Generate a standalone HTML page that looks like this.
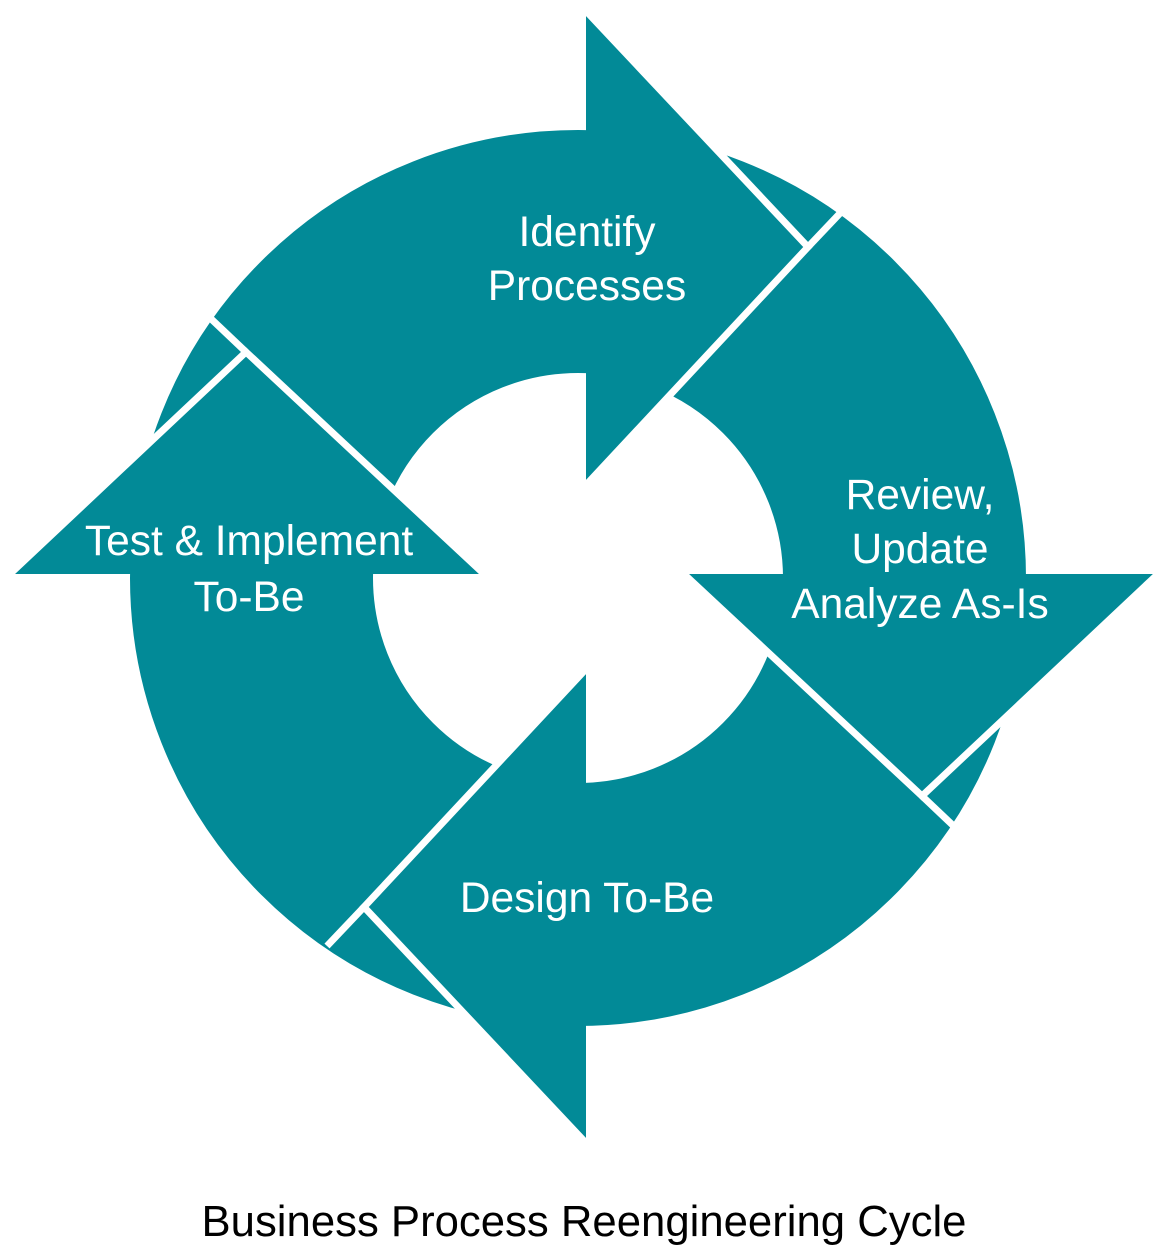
<!DOCTYPE html>
<html><head><meta charset="utf-8"><style>
html,body{margin:0;padding:0;background:#fff;}
svg{display:block}
text{font-family:"Liberation Sans",sans-serif;}
</style></head><body>
<svg width="1168" height="1245" viewBox="0 0 1168 1245" xmlns="http://www.w3.org/2000/svg">
<defs>
<g id="head">
  <path d="M0,-566 L222,-330 L0,-92 Z" fill="#028a97"/>
  <path d="M0,-566 L222,-330 L0,-92" fill="none" stroke="#fff" stroke-width="7"/>
  <line x1="222" y1="-330" x2="259" y2="-369" stroke="#fff" stroke-width="7"/>
</g>
</defs>
<circle cx="578" cy="578" r="326.5" fill="none" stroke="#028a97" stroke-width="243"/>
<g transform="translate(586,577)">
  <use href="#head"/>
  <use href="#head" transform="translate(6,-3) rotate(90)"/>
  <use href="#head" transform="rotate(180)"/>
  <use href="#head" transform="translate(-10,-3) rotate(270)"/>
</g>
<g fill="#fff" font-size="42.5" text-anchor="middle">
  <text x="587" y="246">Identify</text>
  <text x="587" y="300">Processes</text>
  <text x="920" y="509">Review,</text>
  <text x="920" y="563">Update</text>
  <text x="920" y="618">Analyze As-Is</text>
  <text x="249" y="555">Test &amp; Implement</text>
  <text x="249" y="611">To-Be</text>
  <text x="587" y="912">Design To-Be</text>
</g>
<text x="584" y="1236" font-size="43.7" text-anchor="middle" fill="#000">Business Process Reengineering Cycle</text>
</svg>
</body></html>
